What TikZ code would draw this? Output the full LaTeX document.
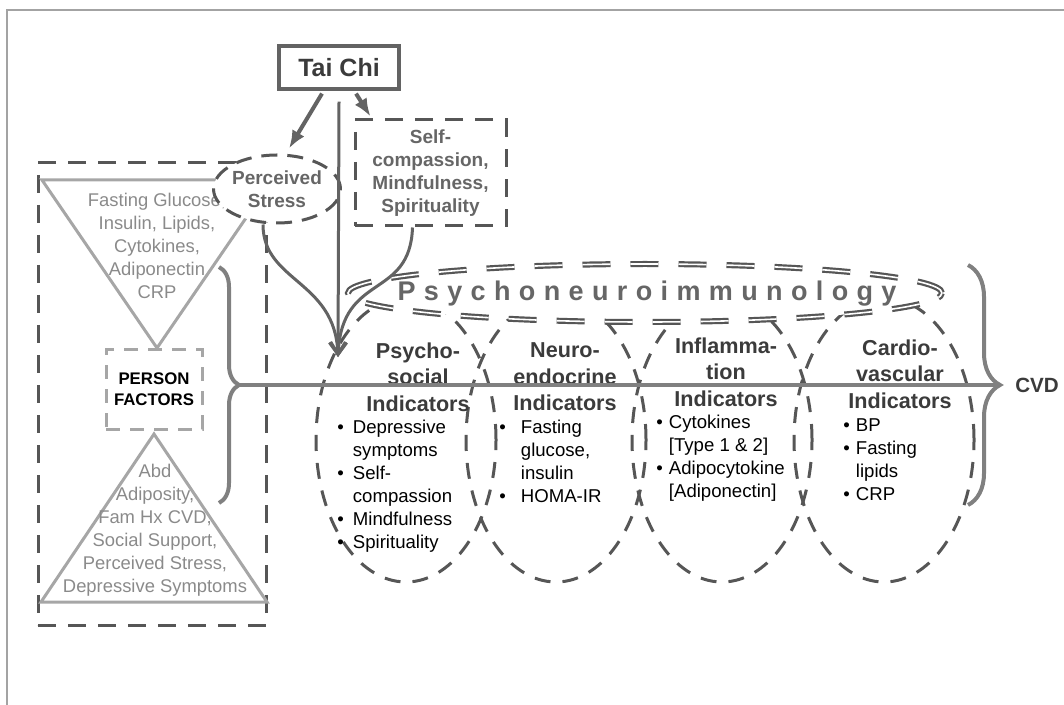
\documentclass[tikz,border=0pt]{standalone}
\usepackage{fontspec}
\setmainfont{Liberation Sans}
\usepackage{tikz}
\usetikzlibrary{arrows.meta,decorations.pathreplacing,shapes.geometric}

\definecolor{framegray}{HTML}{A3A3A3}
\definecolor{dashgray}{HTML}{565656}
\definecolor{trigray}{HTML}{A6A6A6}
\definecolor{tritxt}{HTML}{8A8A8A}
\definecolor{arrgray}{HTML}{636363}
\definecolor{headtxt}{HTML}{3B3B3B}
\definecolor{midtxt}{HTML}{666666}
\definecolor{bracegray}{HTML}{808080}

\begin{document}
\begin{tikzpicture}
[x=0.5pt,y=-0.5pt,
 frameline/.style={draw=framegray,line width=1.3pt},
 dashbox/.style={draw=dashgray,line width=1.5pt,dash pattern=on 9pt off 6pt},
 tri/.style={draw=trigray,line width=1.5pt,line join=miter},
 tritext/.style={text=tritxt,align=center,font=\fontsize{9.2}{11.5}\selectfont},
 pfbox/.style={draw=trigray,line width=1.5pt,dash pattern=on 7pt off 5pt,
   minimum width=48pt,minimum height=40pt,align=center,
   font=\fontsize{8.4}{10.5}\selectfont\bfseries},
 psell/.style={ellipse,draw=dashgray,fill=white,line width=1.5pt,
   dash pattern=on 8pt off 5pt,inner sep=0pt,minimum width=54pt,minimum height=34pt,
   align=center,text=midtxt,font=\fontsize{9.5}{11.5}\selectfont\bfseries},
 taibox/.style={draw=arrgray,line width=1.6pt,minimum width=60pt,minimum height=21.5pt,
   text=headtxt,font=\fontsize{12.5}{14}\selectfont\bfseries},
 scbox/.style={dashbox,minimum width=75.5pt,minimum height=53pt,align=center,
   text=midtxt,font=\fontsize{9.5}{11.5}\selectfont\bfseries},
 indell/.style={ellipse,draw=dashgray,line width=1.5pt,dash pattern=on 8pt off 6pt,
   minimum width=90pt,minimum height=142pt},
 pnisty/.style={ellipse,draw=dashgray,fill=white,line width=1.1pt,double=white,
   double distance=0.8pt,dash pattern=on 14pt off 10pt,minimum width=297pt,
   minimum height=29pt},
 heading/.style={align=center,text=headtxt,font=\fontsize{10.8}{13.3}\selectfont\bfseries},
 blist/.style={inner sep=0pt,font=\fontsize{9.3}{11.5}\selectfont},
 arr/.style={draw=arrgray,line width=2pt,-{Latex[length=9pt,width=7pt]}},
 conv/.style={draw=arrgray,line width=1.5pt,-{Straight Barb[length=6pt,width=8pt]}},
 bracesty/.style={draw=bracegray,line width=2pt,decorate},
 hline/.style={draw=bracegray,line width=2pt}]

\useasboundingbox (0,0) rectangle (1064,705);

% outer frame
\coordinate (fbl) at (7,705);
\coordinate (ftl) at (7,10);
\coordinate (ftr) at (1064,10);
\draw[frameline] (fbl) -- (ftl) -- (ftr);

% person factors
\node[dashbox,minimum width=114pt,minimum height=231pt] (pf) at (152,394) {};
\coordinate (t1a) at (42,180);
\coordinate (t1b) at (272,180);
\coordinate (t1c) at (157,348);
\draw[tri] (t1a) -- (t1b) -- (t1c) -- cycle;
\coordinate (t2a) at (154,434);
\coordinate (t2b) at (267,602);
\coordinate (t2c) at (41,602);
\draw[tri] (t2a) -- (t2b) -- (t2c) -- cycle;
\node[tritext] (bio) at (157,246) {Fasting Glucose,\\Insulin, Lipids,\\Cytokines,\\Adiponectin\\CRP};
\node[tritext] (psy) at (155,530) {Abd\\Adiposity,\\Fam Hx CVD,\\Social Support,\\Perceived Stress,\\Depressive Symptoms};
\node[pfbox] (pfact) at (154,389) {PERSON\\FACTORS};

% tai chi and mediators
\node[psell] (ps) at (277,189) {Perceived\\Stress};
\node[taibox] (tc) at (339,67.5) {Tai Chi};
\node[scbox] (sc) at (430.5,173) {Self-\\compassion,\\Mindfulness,\\Spirituality};

% indicator ellipses
\foreach \cx/\nm in {406/psyell,556/neuell,722/infell,884/carell}
  \node[indell] (\nm) at (\cx,440) {};

\node[pnisty] (pni) at (645,293) {};
\node[text=midtxt,font=\fontsize{13.5}{15}\selectfont\bfseries\addfontfeature{LetterSpace=31}] (pnitxt) at (647,294) {Psychoneuroimmunology};

% arrows
\coordinate (tip) at (338,357);
\draw[arr] ([xshift=-8.5pt,yshift=-1.5pt]tc.south) -- ([xshift=6pt,yshift=2.5pt]ps.north);
\draw[arr] ([xshift=8.5pt,yshift=-1.5pt]tc.south) -- ([xshift=8.5pt,yshift=1pt]sc.north west);
\draw[conv] ([yshift=-5.5pt]tc.south) -- (tip);
\draw[conv] ([xshift=-7pt]ps.south) .. controls (263,282) and (335,280) .. (tip);
\draw[conv] ([xshift=-9pt]sc.south) .. controls (410,300) and (342,272) .. (tip);

% headings
\node[heading] (h1) at (418,377) {Psycho-\\social\\Indicators};
\node[heading] (h2) at (565,377) {Neuro-\\endocrine\\Indicators};
\node[heading] (h3) at (726,372) {Inflamma-\\tion\\Indicators};
\node[heading] (h4) at (900,374) {Cardio-\\vascular\\Indicators};

% indicator lists
\node[blist,anchor=west] (l1) at (337,486) {\begin{tabular}{@{}l@{\hspace{4.5pt}}l@{}}
\textbullet & Depressive\\ & symptoms\\ \textbullet & Self-\\ & compassion\\
\textbullet & Mindfulness\\ \textbullet & Spirituality\end{tabular}};
\node[blist,anchor=west] (l2) at (499,463) {\begin{tabular}{@{}l@{\hspace{7.5pt}}l@{}}
\textbullet & Fasting\\ & glucose,\\ & insulin\\ \textbullet & HOMA-IR\end{tabular}};
\node[blist,anchor=west] (l3) at (656,458) {\begin{tabular}{@{}l@{\hspace{3pt}}l@{}}
\textbullet & Cytokines\\ & [Type 1 \& 2]\\ \textbullet & Adipocytokine\\ & [Adiponectin]\end{tabular}};
\node[blist,anchor=west] (l4) at (843,461) {\begin{tabular}{@{}l@{\hspace{3pt}}l@{}}
\textbullet & BP\\ \textbullet & Fasting\\ & lipids\\ \textbullet & CRP\end{tabular}};

% braces and outcome
\coordinate (lbt) at (219,267);
\coordinate (lbb) at (219,503);
\coordinate (lbtip) at (239,385);
\coordinate (rbt) at (968,265);
\coordinate (rbb) at (968,505);
\coordinate (rbtip) at (1000,385);
\draw[bracesty,decoration={brace,amplitude=10pt}] (lbt) -- (lbb);
\draw[bracesty,decoration={brace,amplitude=16pt}] (rbt) -- (rbb);
\draw[hline] (lbtip) -- (rbtip);
\node[text=headtxt,font=\fontsize{10.3}{12}\selectfont\bfseries] (cvd) at (1037,385) {CVD};
\end{tikzpicture}
\end{document}
